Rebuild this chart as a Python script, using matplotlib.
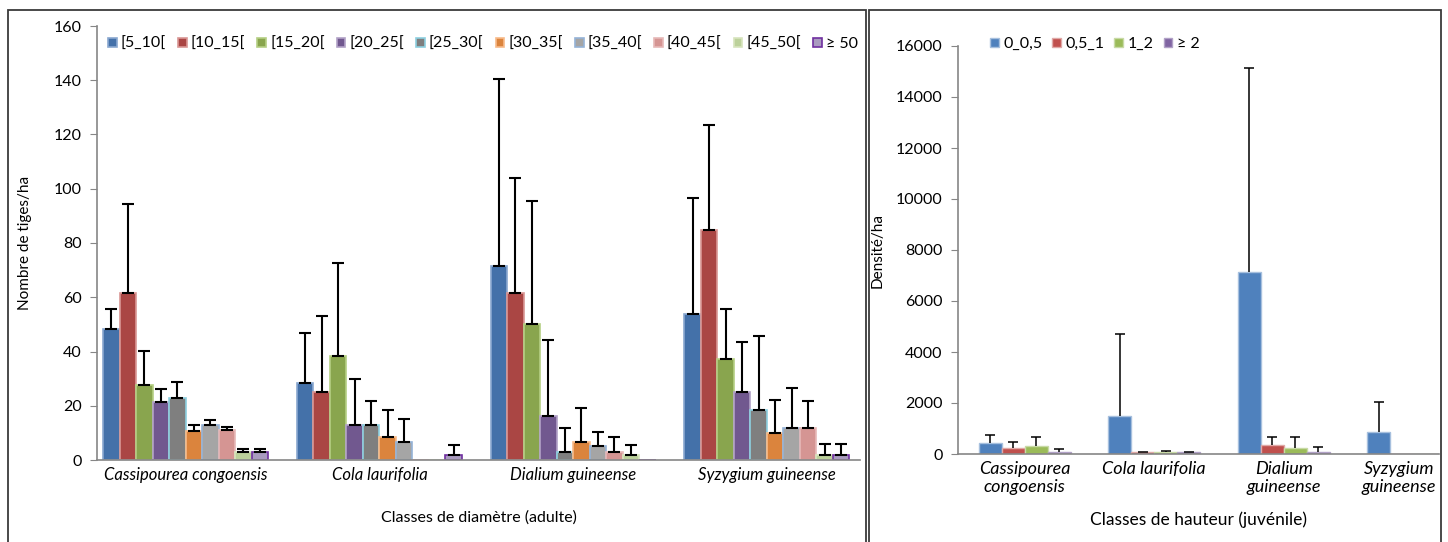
"""Stem density by diameter class (adults) and by height class (juveniles)
for four tree species, drawn as two Excel-style grouped bar charts."""

import matplotlib

matplotlib.use("Agg")
import matplotlib.pyplot as plt
import numpy as np
from matplotlib.patches import Rectangle

plt.rcParams["font.family"] = ["Lato", "DejaVu Sans"]

# Adult chart (diameter classes)
species = ["Cassipourea congoensis", "Cola laurifolia", "Dialium guineense", "Syzygium guineense"]
diam_classes = ["[5_10[", "[10_15[", "[15_20[", "[20_25[", "[25_30[",
                "[30_35[", "[35_40[", "[40_45[", "[45_50[", "\u2265 50"]
diam_values = [
    [48.2, 28.5, 71.4, 53.7],
    [61.4, 25.0, 61.5, 84.8],
    [27.6, 38.3, 50.2, 37.1],
    [21.5, 13.0, 16.4, 25.0],
    [22.9, 13.0, 2.9, 18.4],
    [10.8, 8.4, 6.5, 9.8],
    [12.9, 6.5, 5.1, 11.7],
    [11.0, 0.0, 3.1, 11.7],
    [3.1, 0.0, 1.9, 1.8],
    [3.0, 1.9, 0.0, 1.8],
]
diam_errors = [
    [7.3, 18.4, 69.0, 42.9],
    [33.1, 28.1, 42.6, 38.6],
    [12.5, 34.5, 45.2, 18.4],
    [4.7, 16.7, 27.7, 18.6],
    [6.0, 8.7, 8.8, 27.2],
    [2.1, 10.0, 12.5, 12.5],
    [1.9, 8.6, 5.4, 14.7],
    [1.2, 0.0, 5.3, 9.9],
    [1.1, 0.0, 3.8, 4.0],
    [1.2, 3.8, 0.0, 4.0],
]
diam_ticks = [0, 20, 40, 60, 80, 100, 120, 140, 160]

# Juvenile chart (height classes)
species_juv = ["Cassipourea\ncongoensis", "Cola laurifolia", "Dialium\nguineense", "Syzygium\nguineense"]
height_classes = ["0_0,5", "0,5_1", "1_2", "\u2265 2"]
height_values = [
    [430, 1485, 7150, 860],
    [221, 70, 339, 0],
    [300, 75, 221, 0],
    [78, 70, 78, 0],
]
height_errors = [
    [325, 3220, 8000, 1160],
    [248, 20, 338, 0],
    [377, 55, 456, 0],
    [117, 20, 196, 0],
]
height_ticks = [0, 2000, 4000, 6000, 8000, 10000, 12000, 14000, 16000]

diam_colors = ["#4471A9", "#AA4644", "#89A54E", "#71588F", "#7F7F7F",
               "#DB843D", "#A5A5A5", "#D59593", "#BCD19B", "#A99BBF"]
diam_edges = ["#8AA8D0", "#D99795", "#B5CF84", "#B2A2C7", "#8DD0E0",
              "#F8BB8A", "#95B3D7", "#E6B9B8", "#D7E4BD", "#7030A0"]
height_colors = ["#4F81BD", "#C0504D", "#9BBB59", "#8064A2"]
height_edges = ["#A7C0DE", "#E0A9A7", "#C8DAA6", "#B2A2C7"]

AXIS_GREY = "#868686"


def style_axes(ax, ticks):
    for side in ("top", "right"):
        ax.spines[side].set_visible(False)
    for side in ("left", "bottom"):
        ax.spines[side].set_color(AXIS_GREY)
        ax.spines[side].set_linewidth(1.2)
    ax.set_yticks(ticks)
    ax.set_yticklabels([str(t) for t in ticks], fontsize=11.5)
    ax.tick_params(axis="y", direction="out", length=5, color=AXIS_GREY, pad=6)
    ax.tick_params(axis="x", length=0, pad=5)


fig = plt.figure(figsize=(14.48, 5.42), dpi=100)

# panel frames
fig.patches.append(Rectangle((8 / 1448, -0.01), 858 / 1448, 1 - 10 / 542 + 0.01,
                             transform=fig.transFigure, fill=False,
                             edgecolor="#3a3a3a", lw=1.3))
fig.patches.append(Rectangle((869 / 1448, -0.01), 572 / 1448, 1 - 10 / 542 + 0.01,
                             transform=fig.transFigure, fill=False,
                             edgecolor="#3a3a3a", lw=1.3))

# ---- left chart ----
ax1 = fig.add_axes([97 / 1448, 1 - 460 / 542, 763 / 1448, 434 / 542])
n = len(diam_classes)
bw = 0.852 / n
x = np.arange(len(species))
for i in range(n):
    pos = x - 0.852 / 2 + bw * (i + 0.5)
    vals = np.array(diam_values[i])
    errs = np.array(diam_errors[i])
    ax1.bar(pos, vals, bw, color=diam_colors[i], edgecolor=diam_edges[i],
            linewidth=1.2, label=diam_classes[i], zorder=2)
    show = errs > 0
    ax1.errorbar(pos[show], vals[show], yerr=[np.zeros(show.sum()), errs[show]],
                 fmt="none", ecolor="black", elinewidth=1.5, capsize=4,
                 capthick=1.5, zorder=3)
ax1.set_xlim(-0.458, 3.481)
ax1.set_ylim(0, 160)
ax1.set_xticks(x)
ax1.set_xticklabels(species, fontsize=12, style="italic")
style_axes(ax1, diam_ticks)
ax1.set_ylabel("Nombre de tiges/ha", fontsize=11, labelpad=16)
ax1.set_xlabel("Classes de diamètre (adulte)", fontsize=11.5, labelpad=20)
ax1.legend(loc="center left", bbox_to_anchor=(100 / 1448, 1 - 44 / 542),
           bbox_transform=fig.transFigure, ncol=n, frameon=False,
           fontsize=11.5, handlelength=0.55, handleheight=0.55,
           handletextpad=0.25, columnspacing=0.75, borderpad=0)

# ---- right chart ----
ax2 = fig.add_axes([958 / 1448, 1 - 454 / 542, 481 / 1448, 408 / 542])
m = len(height_classes)
bw2 = 0.71 / m
for i in range(m):
    pos = x - 0.71 / 2 + bw2 * (i + 0.5)
    vals = np.array(height_values[i])
    errs = np.array(height_errors[i])
    ax2.bar(pos, vals, bw2, color=height_colors[i], edgecolor=height_edges[i],
            linewidth=1.0, label=height_classes[i], zorder=2)
    show = (errs > 0) & (vals > 0)
    eb = ax2.errorbar(pos[show], vals[show], yerr=[np.zeros(show.sum()), errs[show]],
                      fmt="none", ecolor="black", elinewidth=1.1, capsize=3.5,
                      capthick=1.1, zorder=3)
    # only the upper cap, like the source chart
    eb[1][0].set_visible(False)
ax2.set_xlim(-0.517, 3.2)
ax2.set_ylim(0, 16000)
# x ticks are invisible; the last label sits a little left so it fits the frame
ax2.set_xticks([0, 1, 2, 2.89])
ax2.set_xticklabels(species_juv, fontsize=13, style="italic", linespacing=1.15)
style_axes(ax2, height_ticks)
ax2.set_ylabel("Densité/ha", fontsize=11, labelpad=8)
ax2.set_xlabel("Classes de hauteur (juvénile)", fontsize=12.5, labelpad=12)
ax2.legend(loc="center left", bbox_to_anchor=(982 / 1448, 1 - 44 / 542),
           bbox_transform=fig.transFigure, ncol=m, frameon=False,
           fontsize=11.5, handlelength=0.55, handleheight=0.55,
           handletextpad=0.3, columnspacing=0.6, borderpad=0)

fig.savefig("out.png", dpi=100)
